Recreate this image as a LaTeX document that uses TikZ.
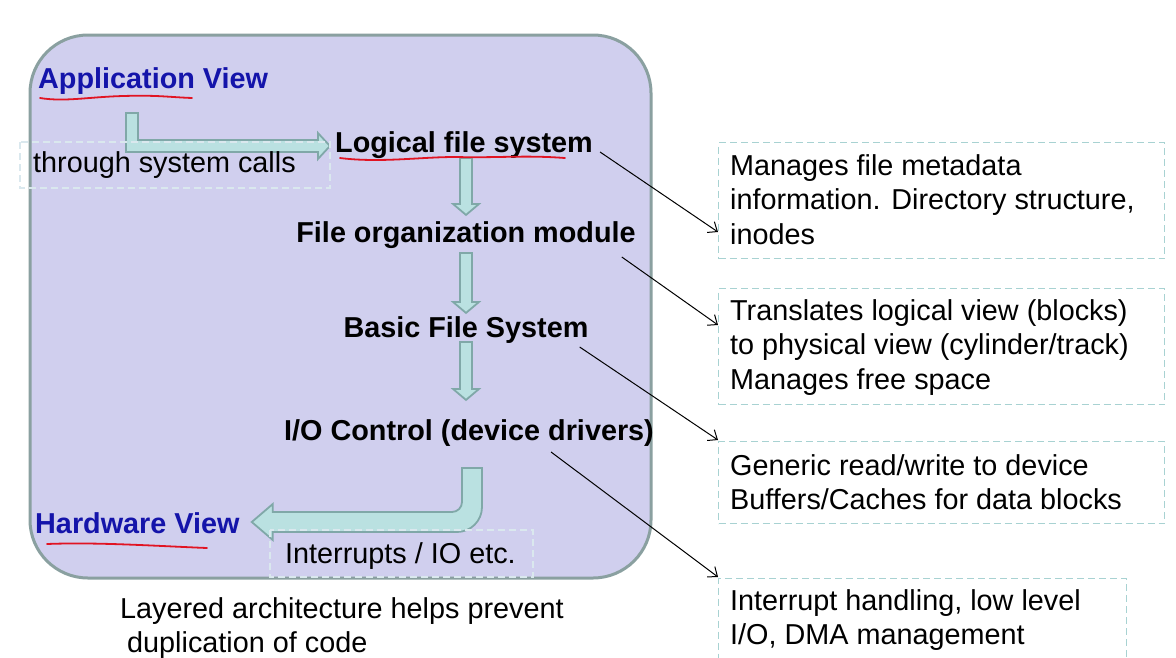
\documentclass[tikz,border=0pt]{standalone}
\usepackage{fontspec}
\setmainfont{Liberation Sans}
\usetikzlibrary{calc,arrows.meta}
\definecolor{lav}{RGB}{208,207,238}
\definecolor{lavedge}{RGB}{138,160,160}
\definecolor{fatfill}{RGB}{186,225,225}
\definecolor{fatedge}{RGB}{128,168,168}
\definecolor{viewblue}{RGB}{20,20,170}
\definecolor{inkred}{RGB}{225,20,35}
\definecolor{dashteal}{RGB}{168,210,210}
\definecolor{faintdash}{RGB}{218,232,238}
\newcommand\fatdown[2]{\path[fat] ($(#1)+(-6,0)$) -- ($(#2)+(-6,-11)$) -- ($(#2)+(-13,-11)$) -- (#2) -- ($(#2)+(13,-11)$) -- ($(#2)+(6,-11)$) -- ($(#1)+(6,0)$) -- cycle;}
\begin{document}
\begin{tikzpicture}[x=1pt,y=-1pt,
  txt/.style={inner sep=0pt, font=\fontsize{28.8}{34.5}\selectfont, anchor=base west},
  layer/.style={inner sep=0pt, font=\fontsize{28.8}{34.5}\selectfont\bfseries, anchor=base},
  view/.style={inner sep=0pt, font=\fontsize{28.8}{34.5}\selectfont\bfseries, text=viewblue, anchor=base west},
  note/.style={inner sep=0pt, font=\fontsize{28.8}{34.5}\selectfont, align=left, anchor=north west},
  notebox/.style={draw=dashteal, dashed, dash pattern=on 7pt off 4pt, line width=1.3pt, inner sep=0pt, anchor=north west},
  faintbox/.style={draw=faintdash, dash pattern=on 7pt off 4pt, line width=1.1pt},
  fat/.style={fill=fatfill, draw=fatedge, line width=1.8pt, line join=miter},
  thinarrow/.style={draw=black, line width=1pt, -{Straight Barb[length=8pt,width=13pt]}},
  ink/.style={draw=inkred, line width=1.8pt, line cap=round},
]
\useasboundingbox (0,0) rectangle (1176,657);
% main panel
\draw[fill=lav, draw=lavedge, line width=3pt, rounded corners=58pt] (30,35) rectangle (651,578);

% layer texts
\node[view] (app) at (38,88) {Application View};
\node[view] (hw) at (35,533) {Hardware View};
\node[layer] (lfs) at (464,152) {Logical file system};
\node[layer] (fom) at (466,242) {File organization module};
\node[layer] (bfs) at (466,337) {Basic File System};
\node[layer] (ioc) at (469,440) {I/O Control (device drivers)};

% L-shaped arrow from application view to logical file system
\coordinate (lp) at ($(app.base west)+(94,25)$);
\coordinate (lt) at ($(lfs.base west)+(-5,-6)$);
\coordinate (lc) at (lp |- lt);
\path[fat] ($(lp)+(-6,0)$) -- ($(lp)+(6,0)$) -- ($(lc)+(6,-6)$) -- ($(lt)+(-12,-6)$) -- ($(lt)+(-12,-13)$) -- (lt)
  -- ($(lt)+(-12,13)$) -- ($(lt)+(-12,6)$) -- ($(lc)+(-6,6)$) -- cycle;

% downward arrows between layers
\coordinate (a1s) at ($(lfs.base)+(2,6)$);
\coordinate (a1e) at ($(a1s |- fom.north)+(0,-6)$);
\fatdown{a1s}{a1e}
\coordinate (a2s) at ($(fom.base)+(0,11)$);
\coordinate (a2e) at ($(a2s |- bfs.north)+(0,-3)$);
\fatdown{a2s}{a2e}
\coordinate (a3s) at ($(bfs.base)+(0,5)$);
\coordinate (a3e) at ($(a3s |- ioc.north)+(0,-19)$);
\fatdown{a3s}{a3e}

% bent arrow from I/O control to hardware view
\coordinate (bp) at ($(ioc.base)+(3,28)$);
\coordinate (bt) at ($(hw.base east)+(12,-11)$);
\coordinate (bc) at (bp |- bt);
\path[fat] ($(bp)+(-10,0)$) -- ($(bp)+(10,0)$) -- ($(bc)+(10,-15)$)
  .. controls ($(bc)+(10,-1.2)$) and ($(bc)+(-1.2,10)$) .. ($(bc)+(-15,10)$)
  -- ($(bt)+(21,10)$) -- ($(bt)+(21,18)$) -- (bt) -- ($(bt)+(21,-18)$) -- ($(bt)+(21,-10)$)
  -- ($(bc)+(-20,-10)$) .. controls ($(bc)+(-14.5,-10)$) and ($(bc)+(-10,-14.5)$) .. ($(bc)+(-10,-20)$)
  -- cycle;

% labels on arrows
\node[txt] (sc) at (33,172) {through system calls};
\node[txt] (irq) at (285,563) {Interrupts / IO etc.};
\draw[faintbox] (20,142) rectangle (330,188);
\draw[faintbox] (270,530) rectangle (533,577);

% red hand underlines
\draw[ink] ($(app.base west)+(2,10)$) .. controls +(25,4) and +(-35,1) .. ($(app.base west)+(85,8)$) .. controls +(35,-1) and +(-25,-1) .. ($(app.base west)+(154,10)$);
\draw[ink] ($(lfs.base west)+(5,6)$) .. controls +(40,5) and +(-35,0) .. ($(lfs.base west)+(120,5)$) .. controls +(45,1) and +(-40,-3) .. ($(lfs.base west)+(230,6)$);
\draw[ink] ($(hw.base west)+(12,11)$) .. controls +(50,-2) and +(-50,-2) .. ($(hw.base west)+(172,15)$);

% caption
\node[note] (cap) at (120,593.85) {\strut Layered architecture helps prevent\\\hspace*{7pt}duplication of code};

% explanation boxes
\node[notebox, minimum width=446pt, minimum height=116pt] (b1) at (718,142) {};
\node[note] (t1) at (730,150.85) {\strut Manages file metadata\\information. Directory structure,\\inodes};
\node[notebox, minimum width=446pt, minimum height=116pt] (b2) at (718,288) {};
\node[note] (t2) at (730,295.85) {\strut Translates logical view (blocks)\\to physical view (cylinder/track)\\Manages free space};
\node[notebox, minimum width=446pt, minimum height=82pt] (b3) at (718,441) {};
\node[note] (t3) at (730,450.85) {\strut Generic read/write to device\\Buffers/Caches for data blocks};
\node[notebox, minimum width=408pt, minimum height=110pt] (b4) at (718,578) {};
\node[note] (t4) at (730,585.85) {\strut Interrupt handling, low level\\I/O, DMA management};

% thin pointer arrows
\draw[thinarrow] ($(lfs.base east)+(7,0)$) -- ($(b1.north west)+(0,90)$);
\draw[thinarrow] ($(fom.base east)+(-14,15)$) -- ($(b2.north west)+(0,37)$);
\draw[thinarrow] ($(bfs.base east)+(-9,10)$) -- ($(b3.north west)+(0,-1)$);
\draw[thinarrow] ($(ioc.base east)+(-103,12)$) -- ($(b4.north west)+(0,-1)$);
\end{tikzpicture}
\end{document}
